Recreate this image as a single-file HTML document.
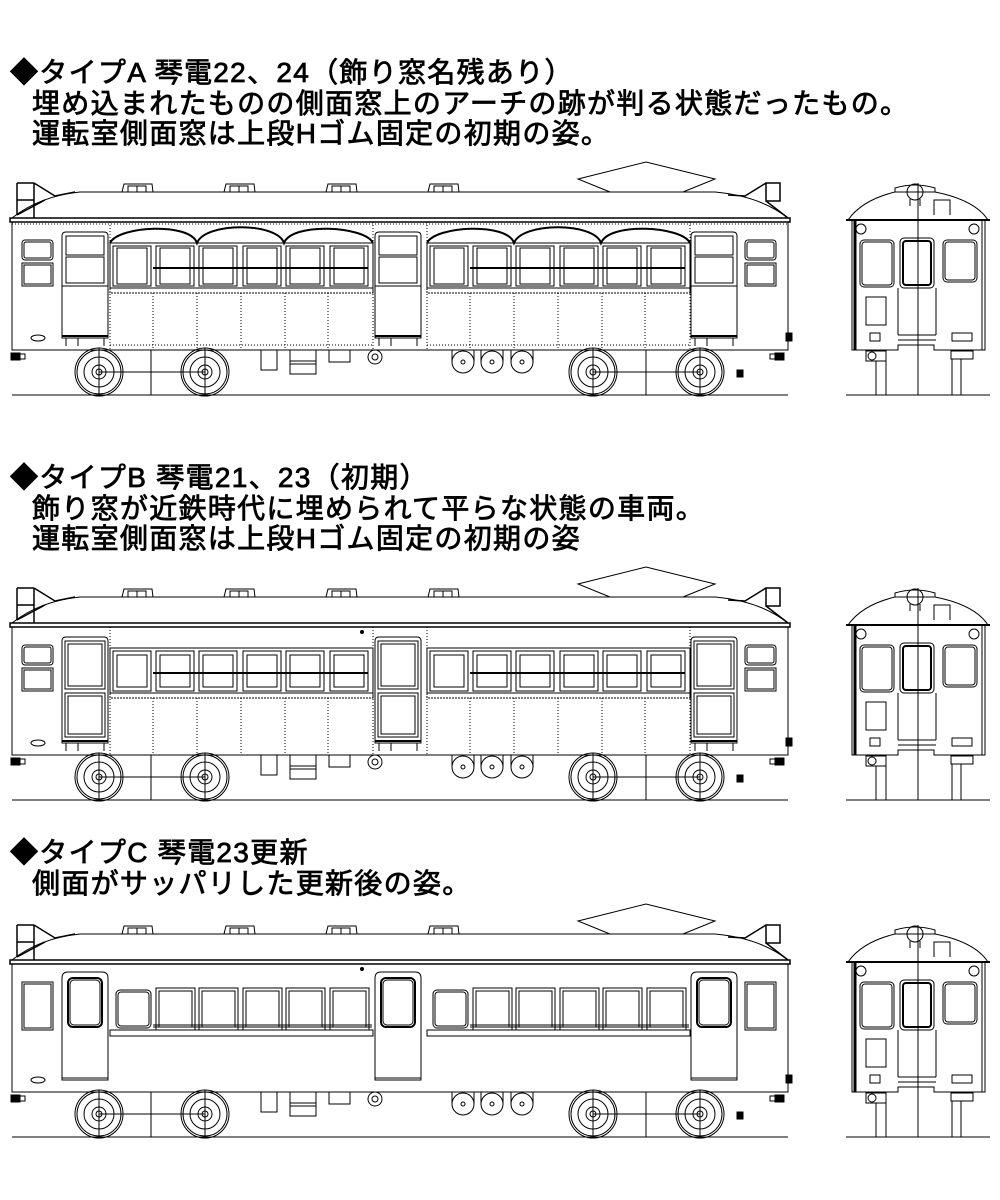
<!DOCTYPE html>
<html><head><meta charset="utf-8"><style>
body{margin:0;background:#fff;width:1000px;height:1200px;overflow:hidden;position:relative}
.t{position:absolute;font-family:"Liberation Sans","Noto Sans CJK JP",sans-serif;font-size:28px;line-height:30px;color:#000;white-space:nowrap;font-weight:normal;letter-spacing:1.3px;-webkit-text-stroke:0.8px #000}
svg{position:absolute;left:0;top:0}
</style></head><body>
<svg width="1000" height="1200" viewBox="0 0 1000 1200" fill="none" stroke="#000" stroke-width="1">
<defs>
<g id="wheel"><circle r="24"/><circle r="22"/><circle r="15"/><circle r="7"/><circle r="3"/><line x1="0" y1="-24" x2="0" y2="24"/></g>
<g id="common">
 <path d="M12 218 Q40 196 80 192 L715 192 Q760 196 788 218"/>
 <rect x="10" y="218" width="780" height="4" fill="#fff" stroke-width="1.5"/>
 <rect x="12" y="222" width="776" height="128"/>
 <g stroke-width="1"><path d="M122 192 L124 184 L152 184 L153 192 M128 192 V186 H146 V192 M137 186 V192"/>
 <path d="M224 192 L226 184 L254 184 L255 192 M230 192 V186 H248 V192 M239 186 V192"/>
 <path d="M326 192 L328 184 L356 184 L357 192 M332 192 V186 H350 V192 M341 186 V192"/>
 <path d="M428 192 L430 184 L458 184 L459 192 M434 192 V186 H452 V192 M443 186 V192"/></g>
 <polyline points="610,192 578,179 646,162 715,179 683,192"/>
 <path d="M17 183 V215 M34 183 V218 M17 183 H34 M17 200 H34 M34 183 L55 196 L75 192 M17 215 L45 200" stroke-width="1.5"/>
 <path d="M766 183 H780 V201 H766 Z M766 183 L745 196 L728 195 M766 201 L788 218" stroke-width="1.5"/>
 <line x1="12" y1="395" x2="788" y2="395"/>
 <line x1="151" y1="350" x2="151" y2="395"/><line x1="646" y1="350" x2="646" y2="395"/>
 <line x1="99" y1="372" x2="205" y2="372"/><line x1="593" y1="372" x2="700" y2="372"/>
 <use href="#wheel" x="99" y="372"/><use href="#wheel" x="205" y="372"/>
 <use href="#wheel" x="593" y="372"/><use href="#wheel" x="700" y="372"/>
 <rect x="261" y="350" width="16" height="20"/><rect x="290" y="350" width="26" height="24"/><line x1="290" y1="361" x2="316" y2="361"/><line x1="290" y1="364" x2="316" y2="364"/>
 <rect x="329" y="350" width="21" height="12"/>
 <circle cx="375" cy="357" r="7"/><circle cx="375" cy="357" r="3"/>
 <g><circle cx="463" cy="362" r="11"/><circle cx="463" cy="362" r="2"/><circle cx="492" cy="362" r="11"/><circle cx="492" cy="362" r="2"/><circle cx="522" cy="362" r="11"/><circle cx="522" cy="362" r="2"/><path d="M452 350 V362 M474 350 V362 M481 350 V362 M503 350 V362 M511 350 V362 M533 350 V362"/></g>
 <ellipse cx="38" cy="338" rx="7" ry="3"/>
 <rect x="11" y="353" width="9" height="7" fill="#000"/><rect x="20" y="354" width="5" height="5"/>
 <rect x="775" y="353" width="9" height="7" fill="#000"/><rect x="770" y="354" width="5" height="5"/>
 <rect x="786" y="333" width="6" height="8" fill="#000"/>
 <rect x="737" y="370" width="6" height="7" fill="#000"/>
</g>
<g id="front">
 <path d="M848 220 Q862 200 895 192 M935 192 Q975 200 988 220"/>
 <path d="M895 192 H935 V188 Q915 182 895 188 Z"/>
 <circle cx="915" cy="192" r="8"/><path d="M910 199 V206 M920 199 V206"/>
 <path d="M934 215 V200 H950 V215"/>
 <line x1="846" y1="220" x2="990" y2="220" stroke-width="2"/>
 <path d="M852 220 V350 H898 V345 H934 V350 H985 V220"/>
 <line x1="855" y1="220" x2="855" y2="350" stroke-width="3"/>
 <line x1="982" y1="220" x2="982" y2="350"/>
 <circle cx="861" cy="229" r="5"/><circle cx="974" cy="229" r="5"/>
 <rect x="860" y="240" width="34" height="47" rx="4"/><rect x="862" y="242" width="30" height="43" rx="3"/>
 <rect x="900" y="238" width="34" height="50" rx="4"/><rect x="903" y="241" width="28" height="44" rx="3" stroke-width="2"/>
 <rect x="943" y="240" width="34" height="42" rx="4"/><rect x="945" y="242" width="30" height="38" rx="3"/>
 <path d="M898 288 V335 M936 288 V335 M898 335 H936 M898 340 H936"/>
 <rect x="866" y="297" width="20" height="28"/>
 <rect x="870" y="333" width="10" height="8"/><rect x="952" y="333" width="20" height="8"/>
 <rect x="866" y="351" width="20" height="10"/><circle cx="872" cy="356" r="4"/><rect x="951" y="351" width="22" height="8"/>
 <path d="M876 361 V395 M886 361 V395 M952 359 V395 M961 359 V395"/>
 <line x1="918" y1="183" x2="918" y2="395"/>
 <line x1="846" y1="395" x2="990" y2="395"/>
</g>
<g id="winA">
 <path d="M110 243 C118 226 190 222 197 243 C205 222 277 222 284 243 C292 222 365 226 373 243" stroke-width="2"/>
 <line x1="110" y1="243" x2="373" y2="243"/>
 <path d="M110 243 V288 H373 V243"/>
 <g><rect x="113" y="246" width="38" height="40"/><rect x="117" y="248" width="30" height="36"/>
 <rect x="156" y="246" width="38" height="40"/><rect x="160" y="248" width="30" height="36"/>
 <rect x="199" y="246" width="38" height="40"/><rect x="203" y="248" width="30" height="36"/>
 <rect x="243" y="246" width="38" height="40"/><rect x="247" y="248" width="30" height="36"/>
 <rect x="286" y="246" width="38" height="40"/><rect x="290" y="248" width="30" height="36"/>
 <rect x="330" y="246" width="38" height="40"/><rect x="334" y="248" width="30" height="36"/></g>
 <line x1="153" y1="268" x2="368" y2="268" stroke-width="2"/>
 <rect x="110" y="288" width="263" height="5" stroke-dasharray="2 1"/>
 <path d="M153 293 V348 M197 293 V348 M241 293 V348 M285 293 V348 M328 293 V348 M110 222 V350 M373 222 V350" stroke-dasharray="1 2"/>
 <line x1="110" y1="345" x2="373" y2="345" stroke-dasharray="1 2"/>
</g>
<g id="winB">
 <path d="M110 243 V288 H373 V243 Z"/>
 <g><rect x="113" y="246" width="38" height="40"/><rect x="117" y="250" width="30" height="32"/>
 <rect x="156" y="246" width="38" height="40"/><rect x="160" y="250" width="30" height="32"/>
 <rect x="199" y="246" width="38" height="40"/><rect x="203" y="250" width="30" height="32"/>
 <rect x="243" y="246" width="38" height="40"/><rect x="247" y="250" width="30" height="32"/>
 <rect x="286" y="246" width="38" height="40"/><rect x="290" y="250" width="30" height="32"/>
 <rect x="330" y="246" width="38" height="40"/><rect x="334" y="250" width="30" height="32"/></g>
 <line x1="153" y1="268" x2="368" y2="268" stroke-width="2"/>
 <rect x="110" y="288" width="263" height="5" stroke-dasharray="2 1"/>
 <path d="M153 293 V348 M197 293 V348 M241 293 V348 M285 293 V348 M328 293 V348 M110 222 V350 M373 222 V350" stroke-dasharray="1 2"/>
</g>
<g id="winC">
 <rect x="116" y="248" width="35" height="38" rx="4"/><rect x="118" y="250" width="31" height="34" rx="3"/>
 <g><rect x="156" y="246" width="39" height="42"/><rect x="159" y="249" width="33" height="36"/>
 <rect x="199" y="246" width="39" height="42"/><rect x="202" y="249" width="33" height="36"/>
 <rect x="243" y="246" width="39" height="42"/><rect x="246" y="249" width="33" height="36"/>
 <rect x="286" y="246" width="39" height="42"/><rect x="289" y="249" width="33" height="36"/>
 <rect x="330" y="246" width="39" height="42"/><rect x="333" y="249" width="33" height="36"/></g>
 <path d="M153 283 H372 M153 285 H372"/>
 <rect x="110" y="288" width="263" height="6"/>
</g>
<g id="doorA"><path d="M0 338 V236 Q0 232 4 232 H42 Q46 232 46 236 V338 Z"/><rect x="4" y="236" width="38" height="19"/><rect x="4" y="257" width="38" height="26"/><line x1="0" y1="286" x2="46" y2="286"/><line x1="0" y1="336" x2="46" y2="336" stroke-width="2"/><path d="M4 338 V346 M16 338 V346 M42 338 V346"/></g>
<g id="doorB"><path d="M0 338 V236 Q0 232 4 232 H42 Q46 232 46 236 V338 Z"/><rect x="3" y="236" width="40" height="48"/><rect x="6" y="239" width="34" height="42"/><rect x="3" y="288" width="40" height="44"/><rect x="6" y="291" width="34" height="38"/><line x1="0" y1="336" x2="46" y2="336" stroke-width="2"/><path d="M4 338 V346 M16 338 V346 M42 338 V346"/></g>
<g id="doorC"><path d="M0 338 V236 Q0 230 6 230 H40 Q46 230 46 236 V338 Z"/><rect x="6" y="236" width="34" height="49" rx="5" stroke-width="2"/><rect x="8" y="238" width="30" height="45" rx="4"/><line x1="0" y1="336" x2="46" y2="336"/></g>
</defs>

<use href="#common"/>
<use href="#winA"/><use href="#winA" x="317"/>
<use href="#doorA" x="62"/><use href="#doorA" x="375"/><use href="#doorA" x="691"/>
<rect x="22" y="240" width="31" height="20" rx="3"/><rect x="24" y="242" width="27" height="16" rx="2"/>
<rect x="22" y="263" width="31" height="23"/><rect x="24" y="265" width="27" height="19"/>
<rect x="745" y="240" width="31" height="20" rx="3"/><rect x="747" y="242" width="27" height="16" rx="2"/>
<rect x="745" y="263" width="31" height="23"/><rect x="747" y="265" width="27" height="19"/>
<line x1="12" y1="224" x2="788" y2="224" stroke-dasharray="1 2"/>
<use href="#front"/>

<g transform="translate(0,405)">
<use href="#common"/>
<use href="#winB"/><use href="#winB" x="317"/>
<use href="#doorB" x="62"/><use href="#doorB" x="375"/><use href="#doorB" x="691"/>
<rect x="22" y="240" width="31" height="20" rx="3"/><rect x="24" y="242" width="27" height="16" rx="2"/>
<rect x="22" y="263" width="31" height="23"/><rect x="24" y="265" width="27" height="19"/>
<rect x="745" y="240" width="31" height="20" rx="3"/><rect x="747" y="242" width="27" height="16" rx="2"/>
<rect x="745" y="263" width="31" height="23"/><rect x="747" y="265" width="27" height="19"/>
<circle cx="362" cy="227" r="1.5" fill="#000"/>
<use href="#front"/>
</g>

<g transform="translate(0,742)">
<use href="#common"/>
<use href="#winC"/><use href="#winC" x="317"/>
<use href="#doorC" x="62"/><use href="#doorC" x="375"/><use href="#doorC" x="691"/>
<rect x="22" y="240" width="31" height="48"/><rect x="24" y="242" width="27" height="44"/>
<rect x="745" y="240" width="31" height="48"/><rect x="747" y="242" width="27" height="44"/>
<circle cx="362" cy="227" r="1.5" fill="#000"/>
<use href="#front"/>
</g>
</svg>

<div class="t" style="left:10px;top:58px">◆タイプA 琴電22、24（飾り窓名残あり）</div>
<div class="t" style="left:32px;top:89px">埋め込まれたものの側面窓上のアーチの跡が判る状態だったもの。</div>
<div class="t" style="left:32px;top:119px">運転室側面窓は上段Hゴム固定の初期の姿。</div>
<div class="t" style="left:10px;top:463px">◆タイプB 琴電21、23（初期）</div>
<div class="t" style="left:32px;top:494px">飾り窓が近鉄時代に埋められて平らな状態の車両。</div>
<div class="t" style="left:32px;top:524px">運転室側面窓は上段Hゴム固定の初期の姿</div>
<div class="t" style="left:10px;top:838px">◆タイプC 琴電23更新</div>
<div class="t" style="left:32px;top:869px">側面がサッパリした更新後の姿。</div>
</body></html>
